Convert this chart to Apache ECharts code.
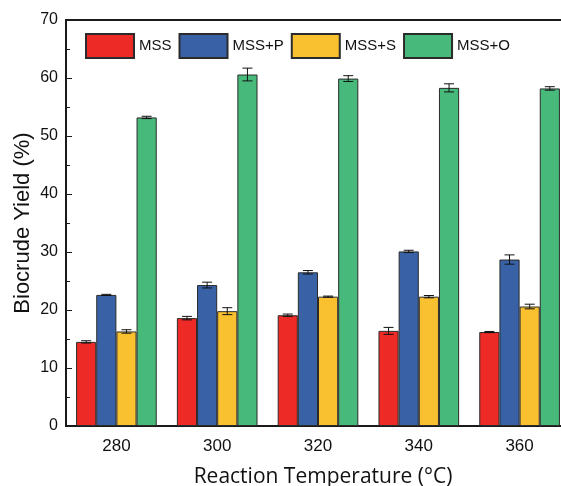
<!DOCTYPE html>
<html>
<head>
<meta charset="utf-8">
<style>
  html, body { margin: 0; padding: 0; background: #fff; }
  #chart { width: 561px; height: 486px; }
</style>
<script src="https://cdn.jsdelivr.net/npm/echarts@6/dist/echarts.min.js"></script>
</head>
<body>
<div id="chart"></div>
<script>
const categories = ['280', '300', '320', '340', '360']
const seriesNames = ['MSS', 'MSS+P', 'MSS+S', 'MSS+O']

const mss = [14.5, 18.6, 19.1, 16.4, 16.2]
const mssP = [22.6, 24.3, 26.5, 30.1, 28.7]
const mssS = [16.3, 19.8, 22.3, 22.3, 20.6]
const mssO = [53.2, 60.6, 59.9, 58.3, 58.2]

const errMss = [0.2, 0.3, 0.2, 0.6, 0.1]
const errMssP = [0.1, 0.5, 0.3, 0.2, 0.8]
const errMssS = [0.3, 0.6, 0.1, 0.2, 0.4]
const errMssO = [0.2, 1.1, 0.5, 0.7, 0.3]

const values = [mss, mssP, mssS, mssO]
const errors = [errMss, errMssP, errMssS, errMssO]
const colors = ['#ED2A26', '#3962A6', '#F9C12F', '#47BA7B']

const barPct = 0.2
const axisColor = '#1a1a1a'
const labelFont = 'Liberation Sans, Arial, sans-serif'

const chart = echarts.init(document.getElementById('chart'))

const barSeries = seriesNames.map((name, i) => ({
  name,
  type: 'bar',
  data: values[i],
  barWidth: (barPct * 100) + '%',
  barGap: '0%',
  itemStyle: {
    color: colors[i],
    borderColor: '#2b2b2b',
    borderWidth: 1
  }
}))

// error bars drawn at the same offset as each bar in its group
const errorSeries = seriesNames.map((name, i) => ({
  type: 'custom',
  name: name + '-err',
  z: 5,
  silent: true,
  data: values[i].map((v, k) => [k, v, errors[i][k]]),
  renderItem: (params, api) => {
    const k = api.value(0)
    const v = api.value(1)
    const e = api.value(2)
    const band = api.size([1, 0])[0]
    const off = (i - 1.5) * band * barPct
    const hi = api.coord([k, v + e])
    const lo = api.coord([k, v - e])
    const cx = hi[0] + off
    const cap = 5
    const style = { stroke: '#111', lineWidth: 1 }
    return {
      type: 'group',
      children: [
        { type: 'line', shape: { x1: cx, y1: hi[1], x2: cx, y2: lo[1] }, style },
        { type: 'line', shape: { x1: cx - cap, y1: hi[1], x2: cx + cap, y2: hi[1] }, style },
        { type: 'line', shape: { x1: cx - cap, y1: lo[1], x2: cx + cap, y2: lo[1] }, style }
      ]
    }
  }
}))

const option = {
  animation: false,
  grid: {
    left: 66,
    width: 504,
    top: 20,
    bottom: 60,
    outerBoundsMode: 'none',
    show: true,
    borderColor: axisColor,
    borderWidth: 2
  },
  legend: {
    data: seriesNames.map(n => ({ name: n, icon: 'rect' })),
    left: 80,
    top: 28,
    itemWidth: 48,
    itemHeight: 24,
    itemGap: 7,
    textStyle: { fontFamily: labelFont, fontSize: 15, color: '#111' }
  },
  xAxis: {
    type: 'category',
    data: categories,
    name: 'Reaction Temperature (°C)',
    nameLocation: 'middle',
    nameGap: 41,
    nameMoveOverlap: false,
    nameTextStyle: { fontFamily: 'Open Sans, sans-serif', fontSize: 21, color: '#111', padding: [0, 0, 0, 10] },
    axisLine: { lineStyle: { color: axisColor, width: 2 } },
    axisTick: { show: false },
    axisLabel: { fontFamily: labelFont, fontSize: 17, color: '#111', margin: 12 }
  },
  yAxis: {
    type: 'value',
    min: 0,
    max: 70,
    interval: 10,
    name: 'Biocrude Yield (%)',
    nameLocation: 'middle',
    nameGap: 32,
    nameMoveOverlap: false,
    nameTextStyle: { fontFamily: labelFont, fontSize: 22, color: '#111' },
    axisLine: { show: true, lineStyle: { color: axisColor, width: 2 } },
    axisTick: { show: true, inside: true, length: 6, lineStyle: { color: axisColor, width: 1 } },
    minorTick: { show: true, splitNumber: 2, length: 4, lineStyle: { color: axisColor, width: 1 } },
    splitLine: { show: false },
    axisLabel: { fontFamily: labelFont, fontSize: 16, color: '#111', margin: 8 }
  },
  series: [...barSeries, ...errorSeries]
}

chart.setOption(option)
</script>
</body>
</html>
